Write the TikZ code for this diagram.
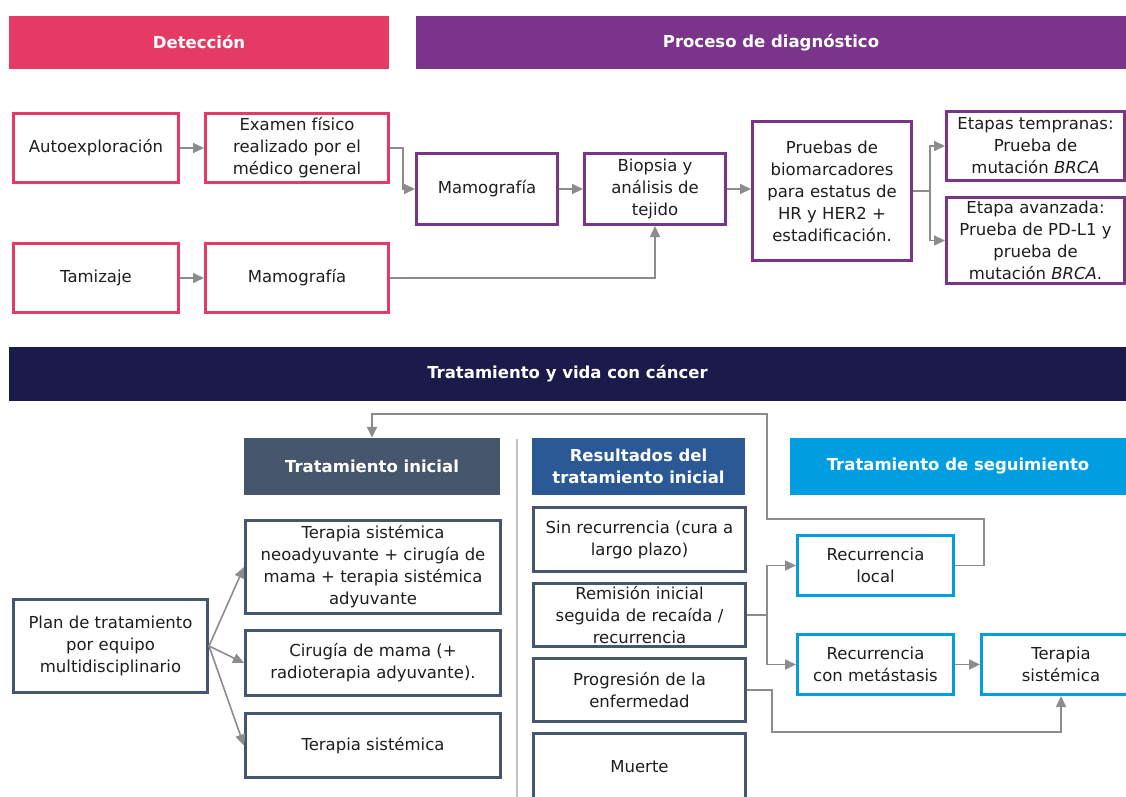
\documentclass[tikz,border=0pt]{standalone}
\usepackage{fontspec}
\setmainfont{DejaVu Sans}
\usetikzlibrary{arrows.meta, positioning}

\definecolor{detpink}{RGB}{229,58,100}
\definecolor{diagpurple}{RGB}{122,52,137}
\definecolor{trnavy}{RGB}{27,26,75}
\definecolor{inislate}{RGB}{70,86,108}
\definecolor{resblue}{RGB}{43,89,149}
\definecolor{segcyan}{RGB}{0,158,224}
\definecolor{ink}{RGB}{30,30,30}
\definecolor{linegray}{RGB}{140,140,140}
\definecolor{sepgray}{RGB}{195,195,195}

\begin{document}
\begin{tikzpicture}[
    x=1pt,
    y=-1pt,
    >={Triangle[length=11pt,width=10pt]},
    every node/.style={font=\fontsize{16.5}{22}\selectfont, align=center, inner sep=0pt, text=ink},
    head/.style={fill=#1, text=white, font=\bfseries\fontsize{16.5}{22}\selectfont},
    box/.style={draw=#1, line width=3pt, fill=white},
    conn/.style={->, color=linegray, line width=1.6pt},
]

    \useasboundingbox (0,0) rectangle (1126,797);
    \fill[white] (0,0) rectangle (1126,797);

    % headers
    \node[head=detpink,    minimum width=380pt,  minimum height=53pt] (hdet) at (199,42.5)   {Detección};
    \node[head=diagpurple, minimum width=710pt,  minimum height=53pt] (hdia) at (771,42.5)   {Proceso de diagnóstico};
    \node[head=trnavy,     minimum width=1117pt, minimum height=54pt] (htra) at (567.5,374)  {Tratamiento y vida con cáncer};
    \node[head=inislate,   minimum width=256pt,  minimum height=57pt] (hini) at (372,466.5)  {Tratamiento inicial};
    \node[head=resblue,    minimum width=213pt,  minimum height=57pt] (hres) at (638.5,466.5) {Resultados del\\tratamiento inicial};
    \node[head=segcyan,    minimum width=336pt,  minimum height=57pt] (hseg) at (958,466.5)  {Tratamiento de seguimiento};

    % detection
    \node[box=detpink, minimum width=165pt, minimum height=69pt] (aut)  at (96,148)  {Autoexploración};
    \node[box=detpink, minimum width=183pt, minimum height=69pt] (exa)  at (297,148) {Examen físico\\realizado por el\\médico general};
    \node[box=detpink, minimum width=165pt, minimum height=69pt] (tam)  at (96,278)  {Tamizaje};
    \node[box=detpink, minimum width=183pt, minimum height=69pt] (mamA) at (297,278) {Mamografía};

    % diagnosis
    \node[box=diagpurple, minimum width=141pt, minimum height=71pt]  (mamB) at (487,189)      {Mamografía};
    \node[box=diagpurple, minimum width=141pt, minimum height=71pt]  (bio)  at (655,189)      {Biopsia y\\análisis de\\tejido};
    \node[box=diagpurple, minimum width=159pt, minimum height=139pt] (pru)  at (832,191)      {Pruebas de\\biomarcadores\\para estatus de\\HR y HER2 +\\estadificación.};
    \node[box=diagpurple, minimum width=178pt, minimum height=69pt]  (etT)  at (1035.5,146)   {Etapas tempranas:\\Prueba de\\mutación \textit{BRCA}};
    \node[box=diagpurple, minimum width=178pt, minimum height=86pt]  (etA)  at (1035.5,240.5) {Etapa avanzada:\\Prueba de PD-L1 y\\prueba de\\mutación \textit{BRCA}.};

    % initial treatment
    \node[box=inislate, minimum width=194pt, minimum height=93pt] (plan) at (110.5,646) {Plan de tratamiento\\por equipo\\multidisciplinario};
    \node[box=inislate, minimum width=255pt, minimum height=93pt] (ini1) at (373,567)   {Terapia sistémica\\neoadyuvante + cirugía de\\mama + terapia sistémica\\adyuvante};
    \node[box=inislate, minimum width=255pt, minimum height=65pt] (ini2) at (373,663)   {Cirugía de mama (+\\radioterapia adyuvante).};
    \node[box=inislate, minimum width=255pt, minimum height=64pt] (ini3) at (373,745.5) {Terapia sistémica};

    % results
    \node[box=inislate, minimum width=212pt, minimum height=64pt] (res1) at (639.5,539.5) {Sin recurrencia (cura a\\largo plazo)};
    \node[box=inislate, minimum width=212pt, minimum height=63pt] (res2) at (639.5,615)   {Remisión inicial\\seguida de recaída /\\recurrencia};
    \node[box=inislate, minimum width=212pt, minimum height=63pt] (res3) at (639.5,690)   {Progresión de la\\enfermedad};
    \node[box=inislate, minimum width=212pt, minimum height=67pt] (res4) at (639.5,767)   {Muerte};

    % follow-up
    \node[box=segcyan, minimum width=156pt, minimum height=60pt] (seg1) at (875.5,565.5) {Recurrencia\\local};
    \node[box=segcyan, minimum width=156pt, minimum height=60pt] (seg2) at (875.5,664.5) {Recurrencia\\con metástasis};
    \node[box=segcyan, minimum width=159pt, minimum height=60pt] (seg3) at (1061,664.5)  {Terapia\\sistémica};

    \draw[sepgray, line width=1.2pt] (517,439) -- (517,797);

    \path[conn]
        (aut)  edge (exa)
        (tam)  edge (mamA)
        (mamB) edge (bio)
        (seg2) edge (seg3)
        (plan.east) edge (ini1.west)
        (plan.east) edge (ini2.west)
        (plan.east) edge (ini3.west)
    ;

    \draw[conn] (exa.east) -- ++(13,0) |- (mamB);
    \draw[conn] (mamA) -| (bio);
    \draw[conn] (bio.east) -- (bio.east -| pru.west);
    \draw[conn] (pru.east) -- ++(17,0) coordinate (prusplit) |- (etT);
    \draw[conn] (prusplit) |- (etA);

    \draw[conn] (res2.east) -- ++(20,0) coordinate (ressplit) |- (seg1);
    \draw[conn] (ressplit) |- (seg2);
    \draw[conn] (res3.east) -- ++(25,0) |- (seg3.south |- 0,732) -- (seg3.south);
    \draw[conn] (seg1.east) -- ++(29,0) |- (767,519) |- (hini.north |- 0,414) -- (hini.north);
\end{tikzpicture}
\end{document}
